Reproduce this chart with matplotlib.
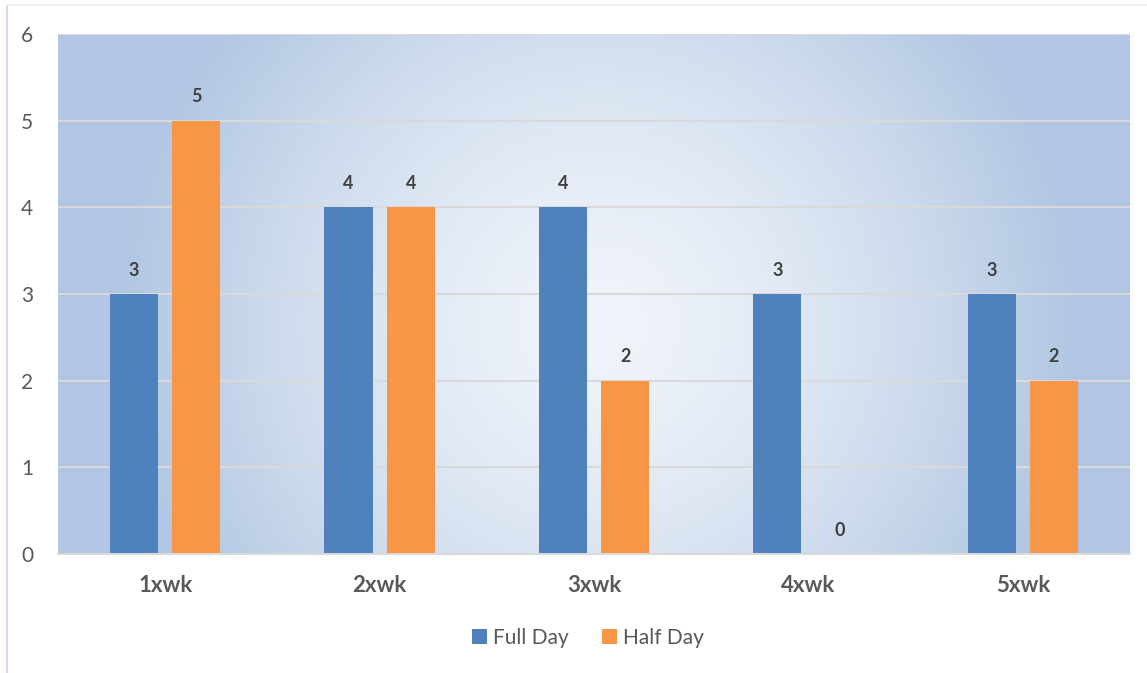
import matplotlib
matplotlib.use("Agg")
import matplotlib.pyplot as plt
import numpy as np
from matplotlib.lines import Line2D

categories = ['1xwk', '2xwk', '3xwk', '4xwk', '5xwk']
full_day = [3, 4, 4, 3, 3]
half_day = [5, 4, 2, 0, 2]

plt.rcParams['font.family'] = ['Lato', 'DejaVu Sans']

W, H = 1147, 673
fig = plt.figure(figsize=(W / 100, H / 100), dpi=100)
ax = fig.add_axes([58 / W, (H - 554) / H, 1072 / W, 520 / H])

# radial gradient background of the plot area
pw, ph = 1072, 520
yy, xx = np.mgrid[0:ph, 0:pw]
cx, cy = 540, 290
r = np.sqrt((xx - cx) ** 2 + (yy - cy) ** 2)
t = np.clip(r / 480, 0, 1) ** 1.5
c0 = np.array([0xf0, 0xf4, 0xfa]) / 255
c1 = np.array([0xb0, 0xc6, 0xe2]) / 255
img = c0[None, None, :] * (1 - t[..., None]) + c1[None, None, :] * t[..., None]
ax.imshow(img, extent=[0, 1, 0, 1], transform=ax.transAxes, aspect='auto',
          zorder=0, interpolation='bilinear')

x = np.arange(len(categories))
w = 0.224
off = 0.145
b1 = ax.bar(x - off, full_day, w, color='#4f81bd', label='Full Day', zorder=3)
b2 = ax.bar(x + off, half_day, w, color='#f79646', label='Half Day', zorder=3)

for bars in (b1, b2):
    for rect in bars:
        h = rect.get_height()
        ax.annotate(f'{h:g}', (rect.get_x() + rect.get_width() / 2, h),
                    xytext=(0, 11), textcoords='offset points', ha='center',
                    va='bottom', fontsize=13, fontweight='bold', color='#404040')

ax.set_xlim(-0.5, 4.5)
ax.set_ylim(0, 6)
ax.set_yticks(range(7))
ax.yaxis.grid(True, color='#d9d9d9', linewidth=1.5, zorder=1)
ax.set_axisbelow(True)
ax.set_xticks(x)
ax.set_xticklabels(categories, fontweight='bold', fontsize=16, color='#595959')
ax.tick_params(axis='x', length=0, pad=15)
ax.tick_params(axis='y', length=0, pad=18, labelsize=15, labelcolor='#595959')
for s in ('top', 'right', 'left'):
    ax.spines[s].set_visible(False)
ax.spines['bottom'].set_color('#d9d9d9')
ax.spines['bottom'].set_linewidth(1.5)
ax.spines['bottom'].set_zorder(4)

fig.legend(handles=[b1, b2], loc='center', bbox_to_anchor=(588 / W, 1 - 638 / H),
           ncol=2, frameon=False, fontsize=15, handlelength=0.7, handleheight=0.7,
           handletextpad=0.3, columnspacing=1.6, labelcolor='#595959')

# chart border
fig.add_artist(Line2D([7 / W, 7 / W], [0, 1 - 5 / H], color='#c5d5ea', linewidth=1.2))
fig.add_artist(Line2D([7 / W, 1], [1 - 5 / H, 1 - 5 / H], color='#f0f0f0', linewidth=1.2))

fig.savefig('out.png', dpi=100)
